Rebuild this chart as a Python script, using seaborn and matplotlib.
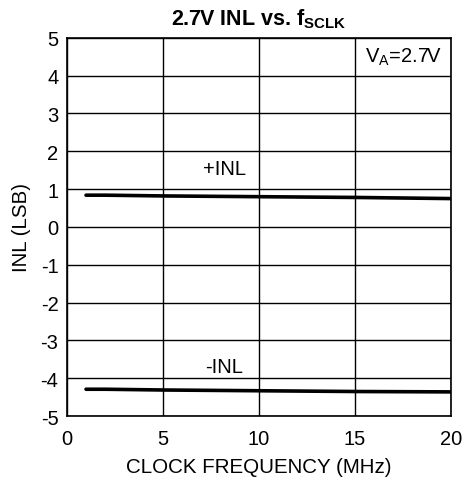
import matplotlib
matplotlib.use("Agg")
import matplotlib.pyplot as plt
import seaborn as sns
import pandas as pd

freq = [1, 2, 5, 10, 15, 20]
inl_pos = [0.84, 0.84, 0.82, 0.80, 0.78, 0.75]
inl_neg = [-4.29, -4.29, -4.31, -4.33, -4.35, -4.36]
xticks = [0, 5, 10, 15, 20]
yticks = [5, 4, 3, 2, 1, 0, -1, -2, -3, -4, -5]

sns.set_theme(style="white")
plt.rcParams['font.family'] = ['Liberation Sans', 'DejaVu Sans']
plt.rcParams['axes.unicode_minus'] = False
plt.rcParams['mathtext.fontset'] = 'custom'
plt.rcParams['mathtext.rm'] = 'Liberation Sans'
plt.rcParams['mathtext.bf'] = 'Liberation Sans:bold'
plt.rcParams['text.color'] = 'black'
plt.rcParams['axes.labelcolor'] = 'black'

df = pd.DataFrame({"freq": freq * 2,
                   "inl": inl_pos + inl_neg,
                   "series": ["+INL"] * len(freq) + ["-INL"] * len(freq)})

fig = plt.figure(figsize=(4.64, 4.85), dpi=100)
ax = fig.add_axes([0.144, 0.140, 0.828, 0.780])
sns.lineplot(data=df, x="freq", y="inl", units="series", estimator=None,
             color="black", linewidth=2.6, ax=ax, legend=False)

ax.set_xlim(0, 20)
ax.set_ylim(-5, 5)
ax.set_xticks(xticks)
ax.set_yticks(yticks)
ax.grid(True, color="black", linewidth=1.0)
for s in ax.spines.values():
    s.set_color("black")
    s.set_linewidth(1.2)
ax.tick_params(axis="x", labelsize=14.5, colors="black", length=0, pad=9)
ax.tick_params(axis="y", labelsize=14.5, colors="black", length=0, pad=6)
ax.set_xlabel("CLOCK FREQUENCY (MHz)", fontsize=14.8, labelpad=7)
ax.set_ylabel("INL (LSB)", fontsize=14.8, labelpad=7)
ax.set_title(r"2.7V INL vs. f$_{\mathbf{SCLK}}$", fontsize=15.5, fontweight="bold", pad=10)

ax.text(8.2, 1.55, "+INL", fontsize=14.5, ha="center", va="center")
ax.text(8.2, -3.7, "-INL", fontsize=14.5, ha="center", va="center")
ax.text(17.5, 4.5, r"V$_\mathrm{A}$=2.7V", fontsize=14.5, ha="center", va="center")

fig.savefig("out.png", dpi=100)
